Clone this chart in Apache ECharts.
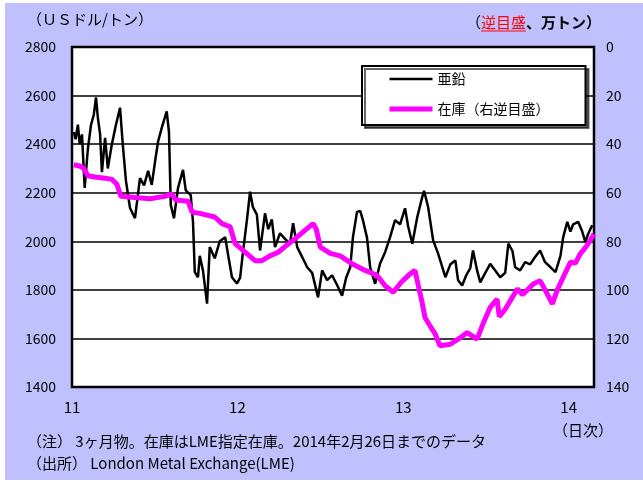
<!DOCTYPE html>
<html>
<head>
<meta charset="utf-8">
<script src="https://cdn.jsdelivr.net/npm/echarts@6/dist/echarts.min.js"></script>
<style>
body{margin:0;background:#fff;}
#bg{position:absolute;left:5px;top:3px;width:638px;height:477px;background:#c0c0ff;}
#main{position:absolute;left:0;top:0;width:643px;height:485px;}
</style>
</head>
<body>
<div id="bg"></div>
<div id="main"></div>
<script>
// 亜鉛 3ヶ月物 (USドル/トン)
var priceDates=['2011-01-05','2011-01-09','2011-01-14','2011-01-18','2011-01-23','2011-01-29','2011-02-05','2011-02-12','2011-02-18','2011-02-23',
'2011-02-27','2011-03-04','2011-03-08','2011-03-15','2011-03-21','2011-03-30','2011-04-08','2011-04-17','2011-04-23','2011-04-30',
'2011-05-09','2011-05-20','2011-05-31','2011-06-09','2011-06-18','2011-06-26','2011-07-05','2011-07-10','2011-07-18','2011-07-29',
'2011-08-03','2011-08-07','2011-08-14','2011-08-23','2011-09-03','2011-09-09','2011-09-20','2011-09-25','2011-09-29','2011-10-06',
'2011-10-10','2011-10-17','2011-10-26','2011-11-01','2011-11-12','2011-11-23','2011-12-05','2011-12-11','2011-12-20','2011-12-31',
'2012-01-07','2012-01-13','2012-01-22','2012-01-29','2012-02-04','2012-02-13','2012-02-20','2012-03-02','2012-03-09','2012-03-17',
'2012-03-24','2012-04-04','2012-04-15','2012-04-26','2012-05-03','2012-05-12','2012-05-23','2012-06-03','2012-06-14','2012-06-27',
'2012-07-06','2012-07-17','2012-07-28','2012-08-08','2012-08-19','2012-08-28','2012-09-06','2012-09-12','2012-09-21','2012-09-28',
'2012-10-04','2012-10-13','2012-10-20','2012-10-31','2012-11-11','2012-11-22','2012-12-03','2012-12-14','2012-12-25','2013-01-05',
'2013-01-12','2013-01-21','2013-02-01','2013-02-12','2013-02-16','2013-02-25','2013-03-08','2013-03-19','2013-04-04','2013-04-15',
'2013-04-26','2013-05-02','2013-05-11','2013-05-20','2013-05-29','2013-06-04','2013-06-13','2013-06-20','2013-07-01','2013-07-12',
'2013-07-23','2013-08-03','2013-08-14','2013-08-21','2013-08-30','2013-09-05','2013-09-16','2013-09-27','2013-10-08','2013-10-19',
'2013-10-30','2013-11-10','2013-11-21','2013-12-03','2013-12-14','2013-12-20','2013-12-29','2014-01-05','2014-01-11','2014-01-22',
'2014-01-31','2014-02-07','2014-02-13','2014-02-22','2014-02-26'];
var priceValues=[2450,2420,2480,2400,2440,2220,2380,2480,2520,2592,
2510,2440,2285,2426,2300,2400,2480,2550,2400,2250,
2137,2095,2260,2230,2290,2232,2350,2411,2467,2535,
2450,2150,2095,2220,2294,2210,2190,2080,1873,1852,
1940,1880,1743,1976,1930,2000,2017,1950,1852,1826,
1850,1950,2087,2204,2142,2110,1962,2115,2050,2090,
1976,2033,2010,1990,2074,1976,1935,1893,1870,1769,
1880,1840,1860,1820,1776,1850,1893,2017,2121,2125,
2087,2015,1893,1825,1909,1955,2017,2087,2070,2136,
2060,1990,2100,2183,2208,2140,2004,1949,1852,1905,
1921,1840,1818,1860,1890,1962,1880,1831,1870,1907,
1880,1852,1870,1990,1960,1893,1880,1914,1905,1935,
1962,1914,1895,1873,1940,2017,2080,2040,2070,2080,
2040,1997,2030,2066,2060];

// LME指定在庫 (万トン)
var stockDates=['2011-01-05','2011-01-18','2011-01-27','2011-02-05','2011-02-20','2011-03-15','2011-03-30','2011-04-10','2011-04-19','2011-05-20',
'2011-06-22','2011-07-25','2011-08-09','2011-08-18','2011-09-14','2011-09-23','2011-10-10','2011-11-12','2011-11-28','2011-12-16',
'2011-12-27','2012-01-18','2012-02-09','2012-02-24','2012-03-13','2012-03-31','2012-04-19','2012-05-07','2012-05-29','2012-06-16',
'2012-06-23','2012-07-02','2012-07-24','2012-08-15','2012-09-12','2012-10-09','2012-11-04','2012-11-22','2012-12-10','2012-12-27',
'2013-01-16','2013-01-27','2013-02-03','2013-02-12','2013-02-18','2013-03-01','2013-03-12','2013-03-23','2013-04-15','2013-05-07',
'2013-05-22','2013-06-13','2013-06-26','2013-07-12','2013-07-27','2013-08-01','2013-08-14','2013-08-30','2013-09-10','2013-09-21',
'2013-10-02','2013-10-15','2013-10-30','2013-11-13','2013-11-26','2013-12-07','2013-12-20','2014-01-05','2014-01-16','2014-01-27',
'2014-02-02','2014-02-13','2014-02-26'];
var stockValues=[48.5,49,50,53,53.5,54,54.5,56.5,61.5,62,
62.5,61.5,60.5,63,63.5,68,68.5,70,72.7,74,
81,84.5,88,88,86,84.5,81.6,79,75.5,72.7,
75,82.4,85,86,89.5,92,94,98.3,101,97,
93.4,92,98,105.5,111.4,114.8,118,123,122.4,119.7,
117.6,120.3,114,107.2,103.8,111,108,103,99.6,102,
100,97.6,96.2,101,105.8,100,94.8,88.6,89,85,
83.8,81,77];

var yearTicks=['2011-01-01','2012-01-01','2013-01-01','2014-01-01'];
var yearLabels=['11','12','13','14'];

var font='"Noto Sans CJK JP", sans-serif';
function ts(d){return +echarts.time.parse(d);}
function zip(a,b){return a.map(function(d,i){return [ts(d),b[i]];});}
var tickTs=yearTicks.map(ts);

var chart=echarts.init(document.getElementById('main'));
var option={
    backgroundColor:'transparent',
    textStyle:{fontFamily:font},
    grid:{left:72,right:49,top:47,bottom:98,show:true,backgroundColor:'#fff',borderColor:'#000',borderWidth:2.5},
    legend:{
        left:362,top:66,orient:'vertical',
        backgroundColor:'#fff',borderColor:'#000',borderWidth:2,
        padding:[6,36,9,25],itemWidth:43,itemHeight:14,itemGap:16,
        shadowColor:'rgba(0,0,0,0.6)',shadowBlur:0,shadowOffsetX:3,shadowOffsetY:3,
        itemStyle:{color:'transparent',borderWidth:0},
        textStyle:{fontSize:14,color:'#000',fontFamily:font},
        data:[
            {name:'亜鉛',lineStyle:{width:2.5}},
            {name:'在庫（右逆目盛）',lineStyle:{width:5}}
        ]
    },
    xAxis:{
        type:'value',
        min:ts('2011-01-01'),max:ts('2014-02-26'),
        axisLine:{show:false},axisTick:{show:false},splitLine:{show:false},
        axisLabel:{
            customValues:tickTs,
            formatter:function(v){var i=tickTs.indexOf(v);return i<0?'':yearLabels[i];},
            fontSize:15,color:'#000',margin:13,fontFamily:font
        }
    },
    yAxis:[{
        type:'value',min:1400,max:2800,interval:200,
        axisLine:{show:false},axisTick:{show:false},
        splitLine:{lineStyle:{color:'#000',width:1.5}},
        axisLabel:{fontSize:14,color:'#000',margin:16,fontFamily:font,formatter:function(v){return String(v);}}
    },{
        type:'value',min:0,max:140,interval:20,inverse:true,
        axisLine:{show:false},axisTick:{show:false},splitLine:{show:false},
        axisLabel:{fontSize:14,color:'#000',margin:12,fontFamily:font}
    }],
    series:[{
        name:'亜鉛',type:'line',showSymbol:false,symbol:'none',
        lineStyle:{color:'#000',width:2.5},itemStyle:{color:'#000'},
        data:zip(priceDates,priceValues)
    },{
        name:'在庫（右逆目盛）',type:'line',yAxisIndex:1,showSymbol:false,symbol:'none',
        lineStyle:{color:'#ff00ff',width:5},itemStyle:{color:'#ff00ff'},
        data:zip(stockDates,stockValues)
    }],
    graphic:[
        {type:'text',left:27,top:12,style:{text:'（ＵＳドル/トン）',font:'15px '+font,fill:'#000'}},
        {type:'text',x:481,y:22,style:{text:'（',font:'15px '+font,fill:'#000',align:'right',verticalAlign:'middle'}},
        {type:'text',x:481,y:22,style:{text:'逆目盛',font:'15px '+font,fill:'#ff0000',verticalAlign:'middle'}},
        {type:'line',shape:{x1:481,y1:31,x2:526,y2:31},style:{stroke:'#ff0000',lineWidth:1}},
        {type:'text',x:526,y:22,style:{text:'、万トン）',font:'bold 15px '+font,fill:'#000',verticalAlign:'middle'}},
        {type:'text',x:613,y:430,style:{text:'（日次）',font:'15px '+font,fill:'#000',align:'right',verticalAlign:'middle'}},
        {type:'text',x:27,y:441,style:{text:'（注） 3ヶ月物。在庫はLME指定在庫。2014年2月26日までのデータ',font:'15px '+font,fill:'#000',verticalAlign:'middle'}},
        {type:'text',x:27,y:463,style:{text:'（出所） London Metal Exchange(LME)',font:'15px '+font,fill:'#000',verticalAlign:'middle'}}
    ]
};
chart.setOption(option);
</script>
</body>
</html>
